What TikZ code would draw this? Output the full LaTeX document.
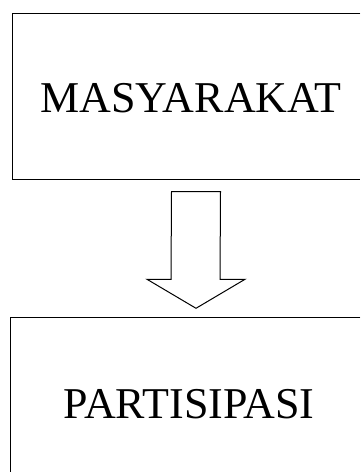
\documentclass[tikz,border=0pt]{standalone}
\usepackage{fontspec}
\setmainfont{Liberation Serif}
\usetikzlibrary{calc}
\begin{document}
\begin{tikzpicture}[x=1bp,y=-1bp,
  boxnode/.style={rectangle,inner sep=0pt,outer sep=0pt},
  labeltext/.style={inner sep=0pt,anchor=base,font=\fontsize{44bp}{50bp}\selectfont},
  boxline/.style={draw=black,line width=1.2bp},
  blockarrow/.style={draw=black,line width=1bp,fill=white,line join=miter}]
\useasboundingbox (0,0) rectangle (361,472);
\node[boxnode,minimum width=349,minimum height=167] (top) at (186.5,96.5) {};
\node[boxnode,minimum width=351,minimum height=155] (bot) at (185.5,394.5) {};
\node[labeltext] (toptext) at (191,113) {MASYARAKAT};
\node[labeltext] (bottext) at (189,418) {PARTISIPASI};
\draw[boxline] (top.north east) -- (top.north west) -- (top.south west) -- (top.south east);
\draw[boxline] (bot.north east) -- (bot.north west) -- (bot.south west);
\coordinate (s) at ($(top.south)+(9.5,12)$);
\coordinate (t) at ($(bot.north)+(10.5,-9)$);
\draw[blockarrow] ($(s)+(-24.5,0)$) -- ($(s)+(24.5,0)$) -- ($(t)+(24,-29)$) -- ($(t)+(49,-29)$)
  -- (t) -- ($(t)+(-49,-29)$) -- ($(t)+(-25,-29)$) -- cycle;
\end{tikzpicture}
\end{document}
